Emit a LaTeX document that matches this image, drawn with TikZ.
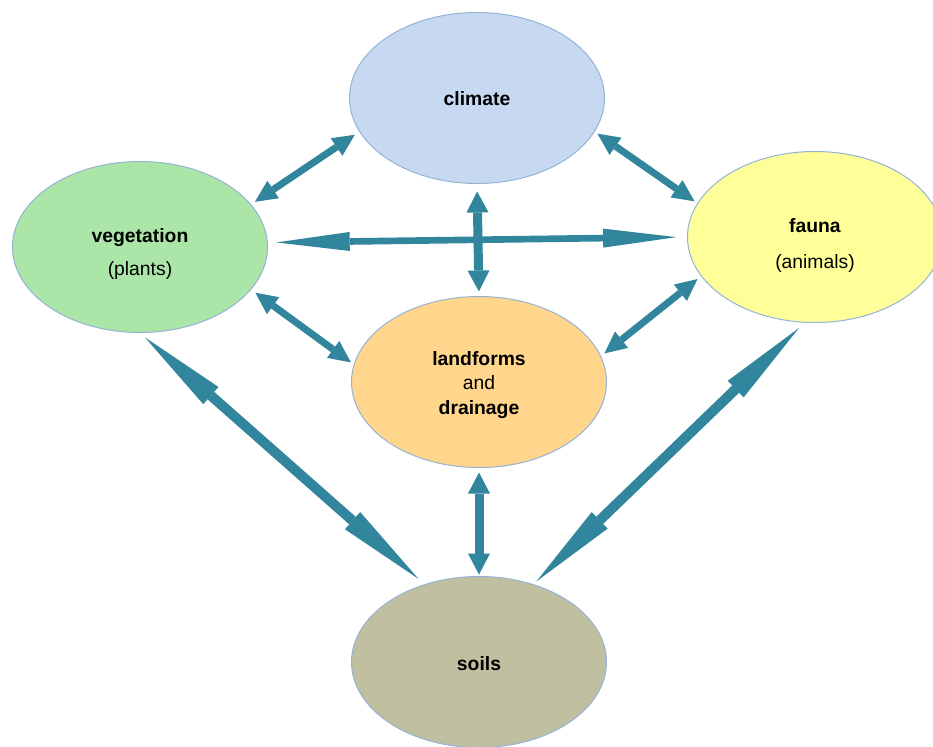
\documentclass[tikz,border=0pt]{standalone}
\usepackage{fontspec}
\setmainfont{Liberation Sans}
\usepackage{xcolor}
\usetikzlibrary{shapes.geometric, arrows.meta}
\definecolor{linkc}{HTML}{31859C}
\definecolor{rim}{HTML}{95B3D7}
\definecolor{climc}{HTML}{C6D9F1}
\definecolor{vegc}{HTML}{ABE5A7}
\definecolor{fauc}{HTML}{FFFF99}
\definecolor{landc}{HTML}{FFD68C}
\definecolor{soilc}{HTML}{C0BFA0}
\tikzstyle{zone} = [ellipse, draw=rim, line width=0.75pt, inner sep=0pt, minimum width=191.25pt, minimum height=128.25pt, align=center, font=\fontsize{14.5}{18.4}\selectfont]
\tikzstyle{link} = [color=linkc, line width=5.25pt, {Triangle[length=16.5pt, width=15.75pt, line width=0pt]}-{Triangle[length=16.5pt, width=15.75pt, line width=0pt]}]
\tikzstyle{stem} = [color=linkc, line width=6.75pt, {Triangle[length=15.75pt, width=16.5pt, line width=0pt]}-{Triangle[length=15.75pt, width=16.5pt, line width=0pt]}]
\tikzstyle{span} = [color=linkc, line width=5pt, {Triangle[length=55pt, width=14.25pt, line width=0pt]}-{Triangle[length=55pt, width=14.25pt, line width=0pt]}]
\tikzstyle{spoke} = [color=linkc, line width=7.5pt, {Triangle[length=66pt, width=17.25pt, line width=0pt]}-{Triangle[length=66pt, width=17.25pt, line width=0pt]}]

\begin{document}
\begin{tikzpicture}[x=0.75pt, y=-0.75pt, node distance=210pt]
    \useasboundingbox (0,0) rectangle (933,747);
    \node[zone, fill=landc] (land) at (479,382) {\rule{0pt}{15pt}\textbf{landforms}\\and\\\textbf{drainage}};
    \node[zone, fill=climc] (clim) [above of=land, xshift=-1.5pt, yshift=3pt] {\rule{0pt}{12pt}\textbf{climate}};
    \node[zone, fill=soilc] (soil) [below of=land] {\rule{0pt}{13pt}\textbf{soils}};
    \node[zone, fill=vegc] (veg) [left of=land, xshift=-44.25pt, yshift=101.25pt] {\rule{0pt}{21pt}\textbf{vegetation}\\[6pt](plants)};
    \node[zone, fill=fauc] (fau) [right of=land, xshift=42pt, yshift=108.75pt] {\rule{0pt}{23.5pt}\textbf{fauna}\\[8.25pt](animals)};

    \path
        (clim.196) edge[link, shorten <=4pt, shorten >=3.4pt] (veg.21)
        (clim.344) edge[link, shorten <=2.5pt, shorten >=2.5pt] (fau.164)
        (veg.339) edge[link, shorten <=3.9pt, shorten >=2.6pt] (land.172)
        (fau.199) edge[link, shorten <=3.4pt, shorten >=3.2pt] (land.12)
        (veg.2) edge[span, shorten <=6.4pt, shorten >=7.9pt] (fau.180)
        (clim.south) edge[stem, shorten <=5.6pt, shorten >=3.4pt] (land.north)
        (land.south) edge[stem, shorten <=3.4pt, shorten >=1.1pt] (soil.north)
        (veg.270) edge[spoke, shorten <=4.9pt, shorten >=6pt] (soil.125)
        (fau.263) edge[spoke, shorten <=5.7pt, shorten >=3pt] (soil.55);
\end{tikzpicture}
\end{document}
